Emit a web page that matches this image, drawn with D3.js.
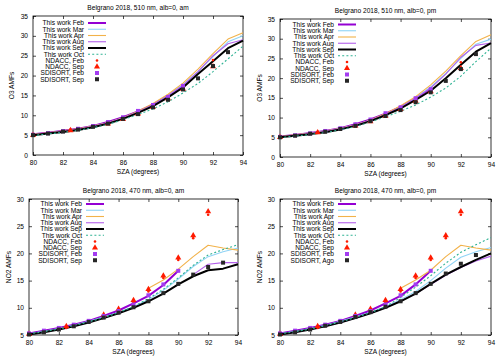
<!DOCTYPE html>
<html><head><meta charset="utf-8">
<script src="https://cdn.jsdelivr.net/npm/d3@7"></script>
<style>body{margin:0;background:#fff}svg{display:block;font-family:"Liberation Sans",Arial,sans-serif}</style>
</head><body><svg id="c" width="500" height="361"></svg>
<script>
// ---------- data ----------
const szaAll = [80,81,82,83,84,85,86,87,88,89,90,91,92,93,94];
const sza80to90 = [80,81,82,83,84,85,86,87,88,89,90];
const sza80to93 = [80,81,82,83,84,85,86,87,88,89,90,91,92,93];
const sza88to94 = [88,89,90,91,92,93,94];
const sza91to94 = [91,92,93,94];
const szaNdaccO3 = [80,82.5,85,86,87,88,89,90,92];
const szaNdaccNO2 = [80,82.5,85,86,87,88,89,90,91,92];

const xTicks = [80,82,84,86,88,90,92,94];
const yTicksO3 = [0,5,10,15,20,25,30,35];
const yTicksNO2 = [5,10,15,20,25,30];

// O3 am
const o3amFeb = [5.2,5.6,6.1,6.6,7.3,8.3,9.5,11.0,12.7,14.9,17.5];
const o3amMar = [5.1,5.5,6.0,6.5,7.2,8.1,9.3,10.8,12.6,15.0,17.7,21.0,24.8,28.5,30.0];
const o3amApr = [5.2,5.6,6.1,6.6,7.3,8.2,9.4,11.0,13.0,15.3,18.1,21.6,25.5,29.2,30.8];
const o3amAug = [5.1,5.5,6.0,6.5,7.2,8.1,9.3,10.8,12.6,14.9,17.5,21.0,25.0,28.0,29.0];
const o3amSep = [5.0,5.4,5.8,6.3,7.0,7.9,9.1,10.6,12.3,14.5,17.0,20.4,23.6,26.9,28.8];
const o3amOct = [4.9,5.3,5.7,6.2,6.9,7.7,8.9,10.2,11.6,13.4,15.6,18.0,21.0,24.2,27.4];
const o3amNdFeb = [5.1,6.4,8.1,9.2,10.6,12.3,14.4,16.9,23.9];
const o3amNdSep = [5.0,6.2,7.9,9.0,10.4,12.1,14.2,16.6,22.3];
const o3amSdFeb = [5.1,5.5,6.0,6.6,7.3,8.3,9.5,11.1,12.6,14.6,17.4];
const o3amSdSep = [5.0,5.4,5.9,6.4,7.1,7.9,9.1,10.3,12.0,13.9,16.5,19.3,22.4,25.9];

// O3 pm
const o3pmFeb = [5.2,5.6,6.1,6.6,7.3,8.3,9.5,11.0,12.7,14.9,17.4];
const o3pmMar = [5.1,5.5,6.0,6.5,7.2,8.1,9.3,10.8,12.6,15.0,17.8,21.2,25.0,28.6,29.9];
const o3pmApr = [5.2,5.6,6.1,6.6,7.3,8.2,9.4,11.0,13.0,15.3,18.3,21.8,25.7,29.3,31.0];
const o3pmAug = [5.1,5.5,6.0,6.5,7.2,8.1,9.3,10.8,12.6,14.9,17.5,21.0,25.3,28.3,28.9];
const o3pmSep = [5.0,5.4,5.8,6.3,7.0,7.9,9.1,10.6,12.3,14.5,16.8,20.0,23.4,26.7,28.9];
const o3pmOct = [4.9,5.3,5.7,6.2,6.9,7.7,8.9,10.2,11.6,13.2,15.2,17.5,20.5,24.2,27.6];
const o3pmNdFeb = [5.1,6.4,8.1,9.2,10.6,12.3,14.4,16.9,24.0];
const o3pmNdSep = [5.0,6.2,7.9,9.0,10.4,12.1,14.2,16.6,22.5];
const o3pmSdFeb = [5.1,5.5,6.0,6.6,7.3,8.3,9.5,11.1,12.6,14.9,17.2];
const o3pmSdSep = [5.0,5.4,5.9,6.4,7.1,7.9,9.1,10.4,11.9,13.9,16.4,19.3,22.3,26.1];

// NO2 am
const no2amFeb = [5.3,5.8,6.3,6.9,7.6,8.5,9.5,10.8,12.2,14.2,16.8];
const no2amMar = [5.2,5.7,6.2,6.8,7.5,8.3,9.2,10.2,11.5,13.2,15.3,17.6,19.4,20.3,21.0];
const no2amApr = [13.6,15.1,17.1,19.4,21.5,21.0,20.6];
const no2amAug = [16.1,18.0,18.3,18.3];
const no2amSep = [5.1,5.5,6.0,6.6,7.3,8.1,9.0,10.0,11.2,12.6,14.3,15.8,16.9,17.2,18.0];
const no2amOct = [5.2,5.6,6.1,6.7,7.4,8.2,9.1,10.2,11.7,13.4,15.5,17.8,19.7,20.7,21.6];
const no2amNdFeb = [5.0,6.3,8.4,9.5,11.0,13.0,15.5,18.8,22.8,27.1];
const no2amNdSep = [5.2,6.6,8.7,9.8,11.4,13.4,15.9,19.2,23.3,27.7];
const no2amSdFeb = [5.3,5.8,6.3,6.9,7.6,8.5,9.4,10.6,12.3,14.3,16.8];
const no2amSdSep = [5.1,5.5,6.0,6.6,7.4,8.2,9.1,10.1,11.2,12.7,14.4,16.1,17.5,18.3];

// NO2 pm
const no2pmFeb = [5.3,5.8,6.3,6.9,7.6,8.5,9.5,10.8,12.2,14.3,16.8];
const no2pmMar = [5.2,5.7,6.2,6.8,7.5,8.3,9.2,10.2,11.5,13.0,15.0,17.3,19.3,20.3,21.1];
const no2pmApr = [13.6,15.1,16.9,19.4,21.5,21.0,20.6];
const no2pmAug = [5.1,5.5,6.0,6.6,7.3,8.1,9.0,10.0,11.2,12.6,14.3,16.0,17.4,18.6,19.5];
const no2pmSep = [5.1,5.5,6.0,6.6,7.3,8.1,9.0,10.0,11.2,12.6,14.4,16.1,17.5,18.8,20.0];
const no2pmOct = [5.2,5.6,6.1,6.7,7.4,8.2,9.1,10.2,11.9,13.8,15.9,18.2,20.2,21.6,22.9];
const no2pmNdFeb = [5.0,6.3,8.4,9.5,11.0,13.0,15.5,18.8,22.8,27.1];
const no2pmNdSep = [5.2,6.6,8.7,9.8,11.4,13.4,15.9,19.2,23.3,27.7];
const no2pmSdFeb = [5.3,5.8,6.3,6.9,7.6,8.5,9.4,10.6,12.3,14.3,16.8];
const no2pmSdAgo = [5.1,5.5,6.0,6.7,7.4,8.3,9.2,10.2,11.2,12.7,14.4,16.3,18.1,19.7];

const legendLabels = ["This work Feb","This work Mar","This work Apr","This work Aug","This work Sep","This work Oct","NDACC, Feb","NDACC, Sep","SDISORT, Feb"];

// ---------- styles ----------
const ST = {
  feb:{color:"#9400d3",w:2},
  mar:{color:"#8fd3f5",w:1.1},
  apr:{color:"#f2b24a",w:1.1},
  aug:{color:"#b360ea",w:1.1},
  sep:{color:"#000000",w:2},
  oct:{color:"#2fb394",w:1.1,dash:"2,2.2"},
  ndFeb:{color:"#ff1a00"},
  ndSep:{color:"#ff1a00"},
  sdFeb:{color:"#a33cf0"},
  sdSep:{color:"#262626"}
};

const zip = (xs, ys) => xs.map((x,i)=>[x,ys[i]]);

const panels = [
  {title:"Belgrano 2018, 510 nm, alb=0, am", ylab:"O3 AMFs", x0:33,x1:243,yT:16,yB:155, ydom:[0,35], yticks:yTicksO3, ylabX:12, leg:{xe:84,y0:23},
   lines:[["feb",zip(sza80to90,o3amFeb)],["mar",zip(szaAll,o3amMar)],["apr",zip(szaAll,o3amApr)],["aug",zip(szaAll,o3amAug)],["sep",zip(szaAll,o3amSep)],["oct",zip(szaAll,o3amOct)]],
   pts:[["ndFeb",zip(szaNdaccO3,o3amNdFeb)],["ndSep",zip(szaNdaccO3,o3amNdSep)],["sdFeb",zip(sza80to90,o3amSdFeb)],["sdSep",zip(sza80to93,o3amSdSep)]],
   last:"SDISORT, Sep"},
  {title:"Belgrano 2018, 510 nm, alb=0, pm", ylab:"O3 AMFs", x0:280,x1:491,yT:19,yB:157, ydom:[0,35], yticks:yTicksO3, ylabX:260, leg:{xe:334,y0:24.5},
   lines:[["feb",zip(sza80to90,o3pmFeb)],["mar",zip(szaAll,o3pmMar)],["apr",zip(szaAll,o3pmApr)],["aug",zip(szaAll,o3pmAug)],["sep",zip(szaAll,o3pmSep)],["oct",zip(szaAll,o3pmOct)]],
   pts:[["ndFeb",zip(szaNdaccO3,o3pmNdFeb)],["ndSep",zip(szaNdaccO3,o3pmNdSep)],["sdFeb",zip(sza80to90,o3pmSdFeb)],["sdSep",zip(sza80to93,o3pmSdSep)]],
   last:"SDISORT, Sep"},
  {title:"Belgrano 2018, 470 nm, alb=0, am", ylab:"NO2 AMFs", x0:29,x1:238,yT:199,yB:335, ydom:[5,30], yticks:yTicksNO2, ylabX:9, leg:{xe:82,y0:204},
   lines:[["feb",zip(sza80to90,no2amFeb)],["mar",zip(szaAll,no2amMar)],["apr",zip(sza88to94,no2amApr)],["aug",zip(sza91to94,no2amAug)],["sep",zip(szaAll,no2amSep)],["oct",zip(szaAll,no2amOct)]],
   pts:[["ndFeb",zip(szaNdaccNO2,no2amNdFeb)],["ndSep",zip(szaNdaccNO2,no2amNdSep)],["sdFeb",zip(sza80to90,no2amSdFeb)],["sdSep",zip(sza80to93,no2amSdSep)]],
   last:"SDISORT, Sep"},
  {title:"Belgrano 2018, 470 nm, alb=0, pm", ylab:"NO2 AMFs", x0:280,x1:491,yT:199,yB:335, ydom:[5,30], yticks:yTicksNO2, ylabX:260, leg:{xe:334,y0:204},
   lines:[["feb",zip(sza80to90,no2pmFeb)],["mar",zip(szaAll,no2pmMar)],["apr",zip(sza88to94,no2pmApr)],["aug",zip(szaAll,no2pmAug)],["sep",zip(szaAll,no2pmSep)],["oct",zip(szaAll,no2pmOct)]],
   pts:[["ndFeb",zip(szaNdaccNO2,no2pmNdFeb)],["ndSep",zip(szaNdaccNO2,no2pmNdSep)],["sdFeb",zip(sza80to90,no2pmSdFeb)],["sdSep",zip(sza80to93,no2pmSdAgo)]],
   last:"SDISORT, Ago"}
];

const svg = d3.select("#c");
const FS = 6.6;
const tri = d3.symbol().type(d3.symbolTriangle).size(16);

function marker(g, key, x, y){
  const s = ST[key];
  if(key==="ndFeb"){
    g.append("circle").attr("cx",x).attr("cy",y).attr("r",1.3).attr("fill",s.color);
  } else if(key==="ndSep"){
    g.append("path").attr("d",tri).attr("transform",`translate(${x},${y})`).attr("fill",s.color);
  } else {
    g.append("rect").attr("x",x-2).attr("y",y-2).attr("width",4).attr("height",4).attr("fill",s.color);
  }
}

panels.forEach(p=>{
  const x = d3.scaleLinear().domain([80,94]).range([p.x0,p.x1]);
  const y = d3.scaleLinear().domain(p.ydom).range([p.yB,p.yT]);
  const g = svg.append("g");
  const tl = 3;
  // axes (gnuplot style: inward ticks, mirrored)
  const ax = [
    d3.axisBottom(x).tickValues(xTicks).tickSizeInner(-tl).tickSizeOuter(0).tickPadding(5),
    d3.axisTop(x).tickValues(xTicks).tickSizeInner(-tl).tickSizeOuter(0).tickFormat(""),
    d3.axisLeft(y).tickValues(p.yticks).tickSizeInner(-tl).tickSizeOuter(0).tickPadding(5),
    d3.axisRight(y).tickValues(p.yticks).tickSizeInner(-tl).tickSizeOuter(0).tickFormat("")
  ];
  const tr = [`translate(0,${p.yB})`,`translate(0,${p.yT})`,`translate(${p.x0},0)`,`translate(${p.x1},0)`];
  ax.forEach((a,i)=>{
    const ag = g.append("g").attr("transform",tr[i]).call(a);
    ag.select(".domain").remove();
    ag.selectAll("line").attr("stroke","#000").attr("stroke-width",0.7);
    ag.selectAll("text").attr("font-size",FS).attr("font-family","Liberation Sans, Arial, sans-serif").attr("fill","#000");
  });
  g.append("rect").attr("x",p.x0).attr("y",p.yT).attr("width",p.x1-p.x0).attr("height",p.yB-p.yT)
    .attr("fill","none").attr("stroke","#000").attr("stroke-width",0.8);

  // title & labels
  g.append("text").attr("x",(p.x0+p.x1)/2).attr("y",p.yT-6.5).attr("text-anchor","middle").attr("font-size",FS).text(p.title);
  g.append("text").attr("x",(p.x0+p.x1)/2).attr("y",p.yB+19).attr("text-anchor","middle").attr("font-size",FS).text("SZA (degrees)");
  g.append("text").attr("transform",`translate(${p.ylabX},${(p.yT+p.yB)/2}) rotate(-90)`).attr("text-anchor","middle").attr("dy","0.35em").attr("font-size",FS).text(p.ylab);

  // lines
  const line = d3.line().x(d=>x(d[0])).y(d=>y(d[1]));
  p.lines.forEach(([k,data])=>{
    const s = ST[k];
    g.append("path").attr("d",line(data)).attr("fill","none").attr("stroke",s.color).attr("stroke-width",s.w)
      .attr("stroke-dasharray",s.dash||null).attr("stroke-linejoin","round");
  });
  // points
  p.pts.forEach(([k,data])=>{
    data.forEach(d=>marker(g,k,x(d[0]),y(d[1])));
  });

  // legend
  const labels = legendLabels.concat([p.last]);
  const keys = ["feb","mar","apr","aug","sep","oct","ndFeb","ndSep","sdFeb","sdSep"];
  const dy = 6.25;
  labels.forEach((lab,i)=>{
    const yy = p.leg.y0 + i*dy;
    g.append("text").attr("x",p.leg.xe).attr("y",yy).attr("dy","0.35em").attr("text-anchor","end").attr("font-size",FS).text(lab);
    const k = keys[i];
    const lx0 = p.leg.xe+4, lx1 = p.leg.xe+22;
    if(i<6){
      const s = ST[k];
      g.append("line").attr("x1",lx0).attr("x2",lx1).attr("y1",yy).attr("y2",yy).attr("stroke",s.color)
        .attr("stroke-width",s.w).attr("stroke-dasharray",s.dash||null);
    } else {
      marker(g,k,(lx0+lx1)/2,yy);
    }
  });
});
</script></body></html>
